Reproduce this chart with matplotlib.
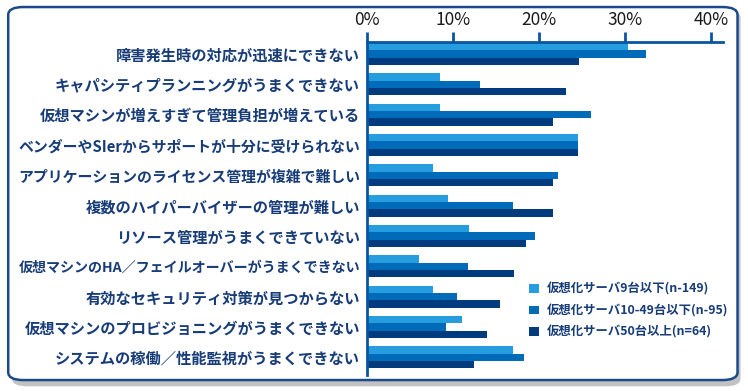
import matplotlib
matplotlib.use('Agg')
import matplotlib.pyplot as plt
from matplotlib.patches import FancyBboxPatch
from matplotlib.ticker import FuncFormatter
import numpy as np

plt.rcParams['font.family'] = ['Noto Sans CJK JP', 'DejaVu Sans']

categories = [
    '障害発生時の対応が迅速にできない',
    'キャパシティプランニングがうまくできない',
    '仮想マシンが増えすぎて管理負担が増えている',
    'ベンダーやSIerからサポートが十分に受けられない',
    'アプリケーションのライセンス管理が複雑で難しい',
    '複数のハイパーバイザーの管理が難しい',
    'リソース管理がうまくできていない',
    '仮想マシンのHA／フェイルオーバーがうまくできない',
    '有効なセキュリティ対策が見つからない',
    '仮想マシンのプロビジョニングがうまくできない',
    'システムの稼働／性能監視がうまくできない',
]
series_names = ['仮想化サーバ9台以下(n-149)', '仮想化サーバ10-49台以下(n-95)', '仮想化サーバ50台以上(n=64)']
small = [30.3, 8.5, 8.5, 24.5, 7.7, 9.4, 11.9, 6.0, 7.7, 11.0, 17.0]
medium = [32.5, 13.1, 26.0, 24.5, 22.2, 17.0, 19.5, 11.7, 10.5, 9.2, 18.3]
large = [24.7, 23.1, 21.6, 24.5, 21.6, 21.6, 18.5, 17.1, 15.5, 14.0, 12.4]
xticks = [0, 10, 20, 30, 40]

colors = ['#259ddf', '#006bb8', '#003b7e']
text_color = '#173c78'
axis_color = '#0a55a0'

fig = plt.figure(figsize=(7.48, 3.91), dpi=100)

# shadow + rounded frame, behind the axes
shadow = FancyBboxPatch((0.016, 0.012), 0.974, 0.962, boxstyle='round,pad=0,rounding_size=0.02',
                        transform=fig.transFigure, facecolor='#9a9a9a', edgecolor='none',
                        alpha=0.6, zorder=-10)
frame = FancyBboxPatch((0.011, 0.028), 0.975, 0.954, boxstyle='round,pad=0,rounding_size=0.02',
                       transform=fig.transFigure, facecolor='white', edgecolor='#1b4a8a',
                       linewidth=1.8, zorder=-9)
fig.patches.append(shadow)
fig.patches.append(frame)

ax = fig.add_axes([0.4906, 0.041, 0.476, 0.852])
ax.patch.set_alpha(0)

y = np.arange(len(categories))
h = 0.24
for i, vals in enumerate([small, medium, large]):
    ax.barh(y + (i - 1) * h, vals, height=h, color=colors[i], label=series_names[i])

ax.set_xlim(0, 41.4)
ax.set_ylim(10.58, -0.4)
ax.xaxis.tick_top()
ax.set_xticks(xticks)
ax.xaxis.set_major_formatter(FuncFormatter(lambda v, p: '%d%%' % v))
ax.tick_params(axis='x', direction='out', length=7, width=2, color=axis_color,
               labelsize=12.5, labelcolor='#1a1a1a', pad=2)
ax.set_yticks(y)
ax.set_yticklabels(categories)
ax.tick_params(axis='y', length=0, labelsize=11, labelcolor=text_color, pad=5)
for lab in ax.get_yticklabels():
    lab.set_fontweight('bold')

for s in ['right', 'bottom']:
    ax.spines[s].set_visible(False)
ax.spines['top'].set_color(axis_color)
ax.spines['top'].set_linewidth(2)
ax.spines['left'].set_color(axis_color)
ax.spines['left'].set_linewidth(2)

leg = fig.legend(loc='center left', bbox_to_anchor=(0.707, 0.205), frameon=False,
                 borderpad=0, borderaxespad=0,
                 handlelength=0.8, handleheight=0.65, handletextpad=0.65, labelspacing=0.68,
                 prop={'size': 8.9, 'weight': 'bold'})
for t in leg.get_texts():
    t.set_color(text_color)

# shrink long labels so they stay inside the frame
fig.canvas.draw()
r = fig.canvas.get_renderer()
for lab in ax.get_yticklabels():
    bb = lab.get_window_extent(r)
    avail = bb.x1 - 18
    if bb.width > avail:
        lab.set_fontsize(11 * avail / bb.width)

fig.savefig('out.png', dpi=100)
